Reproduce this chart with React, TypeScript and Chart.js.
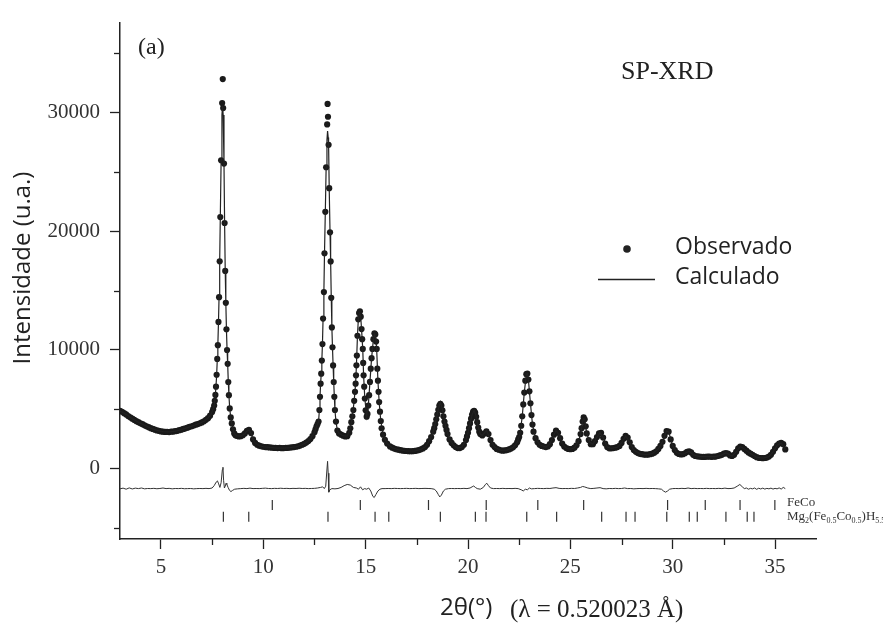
import React, { useEffect, useRef } from 'react';
import { Chart, registerables } from 'chart.js';

Chart.register(...registerables);

const W = 883;
const H = 623;

// Axis ticks
const xMajorTicks = [5, 10, 15, 20, 25, 30, 35];
const xMinorTicks = [7.5, 12.5, 17.5, 22.5, 27.5, 32.5];
const yMajorTicks = [0, 10000, 20000, 30000];
const yMinorTicks = [-5000, 5000, 15000, 25000, 35000];

// Observed intensities [2θ, I]
const observed: [number, number][] = [
  [3.0, 4850], [3.1, 4780], [3.2, 4660], [3.3, 4560], [3.4, 4420], [3.5, 4310], [3.6, 4200], [3.7, 4090], [3.8, 3990], [3.9, 3900],
  [4.0, 3810], [4.1, 3730], [4.2, 3640], [4.3, 3560], [4.4, 3480], [4.5, 3400], [4.6, 3330], [4.7, 3270], [4.8, 3210], [4.9, 3170],
  [5.0, 3120], [5.1, 3100], [5.2, 3080], [5.3, 3090], [5.4, 3070], [5.5, 3100], [5.6, 3110], [5.7, 3140], [5.8, 3170], [5.9, 3230],
  [6.0, 3270], [6.1, 3330], [6.2, 3380], [6.3, 3440], [6.4, 3510], [6.5, 3560], [6.6, 3620], [6.7, 3690], [6.8, 3740], [6.9, 3810],
  [7.0, 3880], [7.1, 3980], [7.2, 4100], [7.3, 4240], [7.4, 4450], [7.5, 4750],
  [7.55, 5000], [7.6, 5300], [7.63, 5700], [7.66, 6200], [7.69, 6900], [7.72, 7900], [7.75, 9240], [7.78, 10400], [7.81, 12360],
  [7.84, 14440], [7.87, 17470], [7.9, 21200], [7.94, 25990], [7.99, 30810], [8.02, 32840], [8.04, 30390], [8.08, 25710],
  [8.11, 20700], [8.14, 16660], [8.17, 13970], [8.2, 11740], [8.23, 9990], [8.26, 8820], [8.29, 7290], [8.32, 6180],
  [8.36, 5060], [8.41, 4300], [8.46, 3800], [8.52, 3300], [8.58, 2950], [8.64, 2800],
  [8.7, 2750], [8.8, 2700], [8.9, 2720], [9.0, 2800], [9.1, 2950], [9.2, 3180], [9.3, 3260], [9.4, 2980], [9.5, 2450], [9.6, 2150],
  [9.7, 2000], [9.8, 1920], [9.9, 1870], [10.0, 1830], [10.1, 1800], [10.2, 1790], [10.3, 1770], [10.4, 1760], [10.5, 1740], [10.6, 1730],
  [10.7, 1720], [10.8, 1730], [10.9, 1710], [11.0, 1720], [11.1, 1730], [11.2, 1740], [11.3, 1760], [11.4, 1780], [11.5, 1800], [11.6, 1830],
  [11.7, 1870], [11.8, 1930], [11.9, 2000], [12.0, 2080], [12.1, 2180], [12.2, 2310], [12.3, 2480], [12.4, 2720], [12.5, 3050],
  [12.55, 3300], [12.6, 3550], [12.65, 3750], [12.7, 3950], [12.74, 4930], [12.77, 6040], [12.8, 7150], [12.83, 7990],
  [12.86, 9100], [12.89, 10490], [12.92, 12640], [12.96, 14870], [12.99, 18150], [13.03, 21640], [13.07, 25400],
  [13.12, 29010], [13.14, 30740], [13.16, 29660], [13.19, 27290], [13.22, 23640], [13.26, 19910], [13.29, 17460],
  [13.32, 14390], [13.35, 11890], [13.38, 10220], [13.41, 8690], [13.44, 7290], [13.47, 6040], [13.5, 4930],
  [13.55, 3950], [13.62, 3200], [13.7, 2950],
  [13.8, 2850], [13.9, 2760], [14.0, 2700], [14.1, 2720], [14.2, 3000],
  [14.25, 3390], [14.3, 3900], [14.35, 4400], [14.4, 4930], [14.44, 5700], [14.48, 6460], [14.51, 7150], [14.53, 7850],
  [14.55, 8700], [14.57, 9520], [14.6, 11190], [14.64, 12580], [14.68, 13100], [14.72, 13250], [14.76, 12800], [14.8, 11750],
  [14.83, 10900], [14.86, 10080], [14.88, 8900], [14.9, 7850], [14.93, 6900], [14.96, 5900], [15.0, 4900], [15.05, 4370],
  [15.09, 4600], [15.13, 5300], [15.17, 6180], [15.21, 7300], [15.25, 8410], [15.29, 9300], [15.33, 10080], [15.38, 10900],
  [15.43, 11400], [15.47, 11300], [15.51, 10700], [15.54, 10080], [15.57, 8410], [15.6, 7400], [15.63, 6460], [15.66, 5600],
  [15.7, 4790], [15.74, 4000], [15.78, 3390], [15.85, 2850], [15.94, 2420], [16.05, 2100], [16.19, 1860],
  [16.3, 1750], [16.4, 1680], [16.5, 1620], [16.6, 1580], [16.7, 1540], [16.8, 1510], [16.9, 1490], [17.0, 1470], [17.1, 1460], [17.2, 1450],
  [17.3, 1460], [17.4, 1480], [17.5, 1510], [17.6, 1550], [17.7, 1610], [17.8, 1690], [17.9, 1810], [18.0, 2000], [18.1, 2300], [18.2, 2650],
  [18.3, 3100], [18.35, 3400], [18.4, 3750], [18.45, 4150], [18.5, 4550], [18.55, 4950], [18.6, 5300], [18.65, 5450], [18.7, 5300],
  [18.75, 4900], [18.8, 4400], [18.85, 3950], [18.9, 3600], [18.95, 3250], [19.0, 2900], [19.1, 2450], [19.2, 2150], [19.3, 1950],
  [19.4, 1800], [19.5, 1720], [19.6, 1720], [19.7, 1800], [19.8, 2000], [19.9, 2400],
  [19.95, 2700], [20.0, 3000], [20.05, 3400], [20.1, 3800], [20.15, 4200], [20.2, 4550], [20.25, 4800], [20.3, 4850], [20.35, 4700],
  [20.4, 4350], [20.45, 3900], [20.5, 3450], [20.55, 3100], [20.6, 2900], [20.7, 2780], [20.8, 2950], [20.9, 3120], [21.0, 2900],
  [21.1, 2400], [21.2, 2000], [21.3, 1800], [21.4, 1650], [21.5, 1580], [21.6, 1530], [21.7, 1500], [21.8, 1520], [21.9, 1550],
  [22.0, 1600], [22.1, 1680], [22.2, 1780], [22.3, 1950], [22.4, 2200], [22.45, 2450],
  [22.5, 2650], [22.55, 3000], [22.6, 3600], [22.65, 4400], [22.7, 5400], [22.75, 6400], [22.8, 7400], [22.85, 7950], [22.9, 8000],
  [22.95, 7500], [23.0, 6500], [23.05, 5500], [23.1, 4500], [23.15, 3700], [23.2, 3100],
  [23.3, 2550], [23.4, 2200], [23.5, 2000], [23.6, 1900], [23.7, 1850], [23.8, 1800], [23.9, 1850], [24.0, 2050], [24.1, 2400], [24.2, 2850],
  [24.3, 3200], [24.4, 3000], [24.5, 2550], [24.6, 2100], [24.7, 1850], [24.8, 1720], [24.9, 1650], [25.0, 1620], [25.1, 1650], [25.2, 1750],
  [25.3, 1950], [25.4, 2300], [25.5, 2900], [25.55, 3400], [25.6, 3950], [25.65, 4300], [25.7, 4150], [25.75, 3550],
  [25.8, 2950], [25.9, 2400], [26.0, 2050], [26.1, 2050], [26.2, 2300], [26.3, 2650], [26.4, 2950], [26.5, 3000], [26.6, 2600], [26.7, 2100],
  [26.8, 1800], [26.9, 1700], [27.0, 1700], [27.1, 1720], [27.2, 1750], [27.3, 1800], [27.4, 1900], [27.5, 2150], [27.6, 2500], [27.7, 2750],
  [27.8, 2600], [27.9, 2200], [28.0, 1800], [28.1, 1550], [28.2, 1400], [28.3, 1300], [28.4, 1230], [28.5, 1200], [28.6, 1170], [28.7, 1160],
  [28.8, 1170], [28.9, 1200], [29.0, 1250], [29.1, 1330], [29.2, 1450], [29.3, 1650], [29.4, 1900], [29.5, 2250], [29.6, 2750], [29.7, 3150],
  [29.8, 3100], [29.9, 2450], [30.0, 1900], [30.1, 1550], [30.2, 1320], [30.3, 1220], [30.4, 1180], [30.5, 1200], [30.6, 1280], [30.7, 1400],
  [30.8, 1450], [30.9, 1350], [31.0, 1150], [31.1, 1050], [31.2, 1020], [31.3, 1000], [31.4, 980], [31.5, 970], [31.6, 980], [31.7, 1000],
  [31.8, 990], [31.9, 980], [32.0, 990], [32.1, 1000], [32.2, 1050], [32.3, 1100], [32.4, 1150], [32.5, 1250], [32.6, 1300], [32.7, 1250],
  [32.8, 1100], [32.9, 1050], [33.0, 1150], [33.1, 1400], [33.2, 1700], [33.3, 1850], [33.4, 1800], [33.5, 1650], [33.6, 1500], [33.7, 1350],
  [33.8, 1250], [33.9, 1150], [34.0, 1050], [34.1, 950], [34.2, 900], [34.3, 880], [34.4, 870], [34.5, 880], [34.6, 920], [34.7, 1000],
  [34.8, 1150], [34.9, 1400], [35.0, 1700], [35.1, 1950], [35.2, 2100], [35.3, 2150], [35.4, 2050], [35.5, 1600],
];

// Calculated (Rietveld) profile [2θ, I]
const calculated: [number, number][] = [
  [3.0, 4850], [3.3, 4560], [3.6, 4200], [3.9, 3900], [4.2, 3640], [4.5, 3400], [4.8, 3210], [5.1, 3100], [5.4, 3080], [5.7, 3140],
  [6.0, 3270], [6.3, 3440], [6.6, 3620], [6.9, 3810], [7.1, 3980], [7.3, 4240], [7.45, 4580], [7.55, 5000], [7.6, 5300], [7.66, 6200],
  [7.72, 7800], [7.75, 9100], [7.78, 10400], [7.81, 12300], [7.84, 14500], [7.87, 17500], [7.9, 21200], [7.94, 26000], [7.98, 29800],
  [8.01, 30600], [8.04, 29800], [8.08, 25700], [8.11, 20700], [8.14, 16700], [8.17, 14000], [8.2, 11700], [8.23, 10000], [8.26, 8800],
  [8.29, 7300], [8.32, 6200], [8.36, 5060], [8.41, 4300], [8.46, 3800], [8.52, 3300], [8.58, 2950], [8.7, 2750], [8.9, 2720], [9.1, 2950],
  [9.2, 3150], [9.3, 3220], [9.4, 2980], [9.5, 2450], [9.6, 2150], [9.8, 1920], [10.0, 1830], [10.3, 1770], [10.7, 1720], [11.0, 1720],
  [11.3, 1760], [11.6, 1830], [11.9, 2000], [12.1, 2180], [12.3, 2480], [12.5, 3050], [12.6, 3550], [12.7, 3950], [12.74, 4930],
  [12.77, 6040], [12.8, 7150], [12.83, 7990], [12.86, 9100], [12.89, 10490], [12.92, 12640], [12.96, 14870], [12.99, 18150],
  [13.03, 21640], [13.07, 25400], [13.11, 27700], [13.14, 28450], [13.17, 27900], [13.19, 27290], [13.22, 23640], [13.26, 19910],
  [13.29, 17460], [13.32, 14390], [13.35, 11890], [13.38, 10220], [13.41, 8690], [13.44, 7290], [13.47, 6040], [13.5, 4930],
  [13.55, 3950], [13.62, 3200], [13.7, 2950], [13.9, 2760], [14.1, 2720], [14.25, 3390], [14.35, 4400], [14.44, 5700], [14.51, 7150],
  [14.55, 8700], [14.6, 11190], [14.64, 12500], [14.68, 13000], [14.72, 13150], [14.76, 12750], [14.8, 11750], [14.86, 10000],
  [14.9, 7850], [14.96, 5900], [15.05, 4400], [15.13, 5300], [15.21, 7300], [15.29, 9300], [15.38, 10900], [15.44, 11300],
  [15.5, 10900], [15.54, 10000], [15.6, 7400], [15.66, 5600], [15.74, 4000], [15.85, 2850], [16.05, 2100], [16.3, 1750],
  [16.6, 1580], [17.0, 1470], [17.4, 1480], [17.7, 1610], [17.9, 1810], [18.1, 2300], [18.3, 3100], [18.45, 4200], [18.55, 5000],
  [18.65, 5600], [18.75, 5000], [18.85, 4000], [18.95, 3250], [19.1, 2450], [19.3, 1950], [19.5, 1720], [19.7, 1800], [19.9, 2400],
  [20.05, 3400], [20.2, 4550], [20.3, 4900], [20.4, 4350], [20.5, 3450], [20.6, 2900], [20.7, 2780], [20.9, 3200], [21.1, 2400],
  [21.3, 1800], [21.6, 1530], [21.9, 1550], [22.2, 1780], [22.4, 2200], [22.55, 3000], [22.65, 4400], [22.75, 6400], [22.85, 7950],
  [22.9, 8000], [22.95, 7500], [23.05, 5500], [23.15, 3700], [23.3, 2550], [23.5, 2000], [23.8, 1800], [24.0, 2050], [24.2, 2850],
  [24.3, 3200], [24.45, 2800], [24.6, 2100], [24.8, 1720], [25.0, 1620], [25.2, 1750], [25.4, 2300], [25.5, 2900], [25.6, 3950],
  [25.65, 4200], [25.7, 4150], [25.8, 2950], [25.95, 2200], [26.1, 2050], [26.3, 2650], [26.45, 3000], [26.6, 2600], [26.8, 1800],
  [27.0, 1700], [27.3, 1800], [27.5, 2150], [27.7, 2750], [27.9, 2200], [28.1, 1550], [28.4, 1230], [28.7, 1160], [29.0, 1250],
  [29.3, 1650], [29.5, 2250], [29.7, 3150], [29.8, 3100], [30.0, 1900], [30.2, 1320], [30.5, 1200], [30.8, 1450], [31.0, 1150],
  [31.3, 1000], [31.7, 1000], [32.1, 1000], [32.4, 1150], [32.6, 1300], [32.9, 1050], [33.1, 1400], [33.3, 1850], [33.5, 1650],
  [33.8, 1250], [34.1, 950], [34.4, 870], [34.7, 1000], [34.9, 1400], [35.1, 1950], [35.3, 2150], [35.5, 1600],
];

// Difference curve (obs - calc, offset) [2θ, I]
const difference: [number, number][] = [
  [3.0, -1720], [3.15, -1660], [3.3, -1750], [3.45, -1640], [3.6, -1730], [3.75, -1660], [3.9, -1700], [4.05, -1650], [4.2, -1720],
  [4.35, -1690], [4.5, -1700], [4.65, -1680], [4.8, -1710], [4.95, -1690], [5.1, -1650], [5.25, -1700], [5.4, -1680], [5.55, -1720],
  [5.7, -1690], [5.85, -1700], [6.0, -1680], [6.15, -1710], [6.3, -1700], [6.45, -1690], [6.6, -1720], [6.75, -1700], [6.9, -1690],
  [7.05, -1700], [7.2, -1680], [7.35, -1700], [7.5, -1650], [7.6, -1450], [7.7, -1150], [7.76, -1050], [7.82, -1300], [7.88, -1600],
  [7.94, -1200], [8.0, -100], [8.03, 100], [8.06, -1000], [8.1, -1650], [8.14, -1500], [8.18, -1250], [8.22, -1350], [8.28, -1600],
  [8.35, -1850], [8.42, -1950], [8.5, -1850], [8.6, -1750], [8.75, -1720], [8.9, -1700], [9.05, -1680], [9.2, -1700], [9.35, -1660],
  [9.5, -1700], [9.65, -1690], [9.8, -1700], [9.95, -1680], [10.1, -1660], [10.25, -1690], [10.4, -1700], [10.55, -1680], [10.7, -1690],
  [10.85, -1670], [11.0, -1690], [11.15, -1680], [11.3, -1700], [11.45, -1680], [11.6, -1690], [11.75, -1670], [11.9, -1690],
  [12.05, -1680], [12.2, -1700], [12.35, -1690], [12.5, -1680], [12.65, -1650], [12.8, -1600], [12.9, -1550], [12.98, -1700],
  [13.05, -1500], [13.1, -300], [13.14, 600], [13.17, -400], [13.2, -2000], [13.25, -1800], [13.35, -1700], [13.5, -1720],
  [13.65, -1690], [13.8, -1600], [13.95, -1450], [14.1, -1350], [14.25, -1400], [14.4, -1600], [14.55, -1650], [14.65, -1750],
  [14.75, -1550], [14.85, -1800], [14.95, -1700], [15.05, -1750], [15.15, -1650], [15.25, -1900], [15.35, -2350], [15.42, -2450],
  [15.5, -2200], [15.6, -1900], [15.7, -1750], [15.8, -1700], [15.95, -1700], [16.1, -1690], [16.25, -1700], [16.4, -1680],
  [16.55, -1690], [16.7, -1700], [16.85, -1690], [17.0, -1680], [17.15, -1700], [17.3, -1690], [17.45, -1680], [17.6, -1700],
  [17.75, -1690], [17.9, -1680], [18.05, -1690], [18.2, -1700], [18.35, -1750], [18.45, -1900], [18.55, -2200], [18.62, -2400],
  [18.7, -2250], [18.8, -1900], [18.9, -1750], [19.05, -1700], [19.2, -1690], [19.35, -1700], [19.5, -1690], [19.65, -1700],
  [19.8, -1680], [19.95, -1700], [20.1, -1650], [20.2, -1550], [20.28, -1480], [20.36, -1600], [20.45, -1700], [20.6, -1750],
  [20.75, -1600], [20.85, -1350], [20.92, -1250], [21.0, -1450], [21.1, -1650], [21.25, -1700], [21.4, -1690], [21.55, -1700],
  [21.7, -1680], [21.85, -1700], [22.0, -1690], [22.15, -1700], [22.3, -1680], [22.45, -1700], [22.6, -1800], [22.7, -1900],
  [22.8, -1750], [22.9, -1800], [23.0, -1650], [23.1, -1720], [23.25, -1700], [23.4, -1680], [23.55, -1690], [23.7, -1700],
  [23.85, -1680], [24.0, -1690], [24.15, -1650], [24.3, -1620], [24.45, -1680], [24.6, -1700], [24.75, -1690], [24.9, -1700],
  [25.05, -1680], [25.2, -1690], [25.35, -1650], [25.5, -1600], [25.6, -1520], [25.7, -1560], [25.85, -1650], [26.0, -1700],
  [26.15, -1680], [26.3, -1650], [26.45, -1620], [26.6, -1700], [26.75, -1720], [26.9, -1690], [27.05, -1700], [27.2, -1680],
  [27.35, -1700], [27.5, -1690], [27.65, -1650], [27.8, -1700], [27.95, -1690], [28.1, -1720], [28.25, -1700], [28.4, -1690],
  [28.55, -1700], [28.7, -1680], [28.85, -1700], [29.0, -1690], [29.15, -1700], [29.3, -1720], [29.45, -1750], [29.55, -1900],
  [29.65, -2000], [29.75, -1900], [29.85, -1750], [30.0, -1700], [30.15, -1690], [30.3, -1700], [30.45, -1680], [30.6, -1700],
  [30.75, -1650], [30.9, -1700], [31.05, -1680], [31.2, -1700], [31.35, -1690], [31.5, -1700], [31.65, -1680], [31.8, -1700],
  [31.95, -1690], [32.1, -1700], [32.25, -1680], [32.4, -1700], [32.55, -1660], [32.7, -1700], [32.85, -1690], [33.0, -1650],
  [33.15, -1500], [33.28, -1350], [33.4, -1550], [33.5, -1700], [33.6, -1650], [33.7, -1750], [33.8, -1680], [33.9, -1720],
  [34.0, -1650], [34.1, -1760], [34.2, -1670], [34.3, -1730], [34.4, -1660], [34.5, -1740], [34.6, -1680], [34.7, -1720],
  [34.8, -1660], [34.9, -1740], [35.0, -1680], [35.1, -1720], [35.2, -1640], [35.3, -1740], [35.4, -1600], [35.5, -1700],
];

// Bragg reflection positions (2θ)
const feCoReflections = [10.44, 14.74, 18.07, 20.89, 23.41, 25.65, 29.75, 31.59, 33.29, 34.99];
const mgReflections = [8.05, 9.29, 13.16, 15.46, 16.13, 18.65, 20.36, 20.88, 22.87, 24.33, 26.53, 27.72, 28.16, 29.71, 30.81, 31.2, 32.6, 33.64, 33.97];
const feCoRowLevel = -3090;
const mgRowLevel = -4070;

const SERIF = '"Liberation Serif", "Times New Roman", serif';
const SANS = '"Open Sans", "Liberation Sans", sans-serif';

const decorPlugin = {
  id: 'decor',
  afterDraw(chart: any) {
    const ctx: CanvasRenderingContext2D = chart.ctx;
    const xs = chart.scales.x;
    const ys = chart.scales.y;
    const { left, bottom } = chart.chartArea;
    ctx.save();
    // minor ticks
    ctx.strokeStyle = '#222';
    ctx.lineWidth = 1.3;
    xMinorTicks.forEach((v) => {
      const px = Math.round(xs.getPixelForValue(v)) + 0.5;
      ctx.beginPath();
      ctx.moveTo(px, bottom);
      ctx.lineTo(px, bottom + 6);
      ctx.stroke();
    });
    yMinorTicks.forEach((v) => {
      const py = Math.round(ys.getPixelForValue(v)) + 0.5;
      ctx.beginPath();
      ctx.moveTo(left - 6, py);
      ctx.lineTo(left, py);
      ctx.stroke();
    });

    ctx.fillStyle = '#222';
    ctx.textBaseline = 'middle';
    ctx.textAlign = 'left';
    ctx.font = `24px ${SERIF}`;
    ctx.fillText('(a)', 138, 48);
    ctx.font = `26px ${SERIF}`;
    ctx.fillText('SP-XRD', 621, 72);

    // legend
    ctx.beginPath();
    ctx.arc(627, 249, 3.8, 0, Math.PI * 2);
    ctx.fill();
    ctx.beginPath();
    ctx.moveTo(598, 279.5);
    ctx.lineTo(655, 279.5);
    ctx.lineWidth = 1.3;
    ctx.stroke();
    ctx.font = `23px ${SANS}`;
    ctx.fillText('Observado', 675, 247);
    ctx.fillText('Calculado', 675, 277);

    // axis titles
    ctx.save();
    ctx.translate(23, 268);
    ctx.rotate(-Math.PI / 2);
    ctx.textAlign = 'center';
    ctx.font = `24px ${SANS}`;
    ctx.fillText('Intensidade (u.a.)', 0, 0);
    ctx.restore();
    ctx.font = `24px ${SANS}`;
    ctx.fillText('2θ(°)', 440, 608);
    ctx.font = `25px ${SERIF}`;
    ctx.fillText('(λ = 0.520023 Å)', 510, 610);

    // phase labels
    ctx.fillStyle = '#333';
    ctx.font = `13px ${SERIF}`;
    ctx.fillText('FeCo', 787, 503);
    ctx.textBaseline = 'alphabetic';
    const parts: [string, boolean][] = [
      ['Mg', false], ['2', true], ['(Fe', false], ['0.5', true], ['Co', false], ['0.5', true], [')H', false], ['5.5', true],
    ];
    let x = 787;
    const base = 520;
    parts.forEach(([t, sub]) => {
      ctx.font = sub ? `8px ${SERIF}` : `13px ${SERIF}`;
      ctx.fillText(t, x, sub ? base + 3 : base);
      x += ctx.measureText(t).width;
    });
    ctx.restore();
  },
};

export default function App() {
  const ref = useRef<HTMLCanvasElement>(null);
  useEffect(() => {
    if (!ref.current) return;
    const tickFont = { family: SERIF, size: 21 };
    const chart = new Chart(ref.current, {
      type: 'scatter',
      data: {
        datasets: [
          {
            type: 'line',
            label: 'Calculado',
            data: calculated.map(([x, y]) => ({ x, y })),
            borderColor: '#222',
            borderWidth: 1.2,
            pointRadius: 0,
            fill: false,
            tension: 0,
            order: 1,
          } as any,
          {
            type: 'scatter',
            label: 'Observado',
            data: observed.map(([x, y]) => ({ x, y })),
            pointRadius: 3.1,
            pointBackgroundColor: '#1a1a1a',
            pointBorderWidth: 0,
            showLine: false,
            order: 2,
          } as any,
          {
            type: 'line',
            label: 'Diferença',
            data: difference.map(([x, y]) => ({ x, y })),
            borderColor: '#333',
            borderWidth: 1,
            pointRadius: 0,
            fill: false,
            tension: 0,
            order: 3,
          } as any,
          {
            type: 'scatter',
            label: 'FeCo',
            data: feCoReflections.map((x) => ({ x, y: feCoRowLevel })),
            pointStyle: 'line',
            rotation: 90,
            pointRadius: 5,
            pointBorderColor: '#333',
            pointBorderWidth: 1.2,
            order: 4,
          } as any,
          {
            type: 'scatter',
            label: 'Mg2(Fe0.5Co0.5)H5.5',
            data: mgReflections.map((x) => ({ x, y: mgRowLevel })),
            pointStyle: 'line',
            rotation: 90,
            pointRadius: 5,
            pointBorderColor: '#333',
            pointBorderWidth: 1.2,
            order: 5,
          } as any,
        ],
      },
      options: {
        responsive: false,
        animation: false,
        devicePixelRatio: 1,
        layout: { padding: { top: 17, right: 67, left: 0, bottom: 0 } },
        plugins: { legend: { display: false }, tooltip: { enabled: false } },
        scales: {
          x: {
            type: 'linear',
            position: 'bottom',
            min: 3,
            max: 37,
            afterBuildTicks: (s: any) => {
              s.ticks = xMajorTicks.map((v) => ({ value: v }));
            },
            afterFit: (s: any) => {
              s.height = 84;
            },
            border: { display: true, color: '#222', width: 1.5 },
            grid: { display: true, drawOnChartArea: false, drawTicks: true, tickLength: 10, tickColor: '#222', tickWidth: 1.3 },
            ticks: { font: tickFont, color: '#333', padding: 6, autoSkip: false, maxRotation: 0, callback: (v: any) => String(v) },
          },
          y: {
            type: 'linear',
            position: 'left',
            min: -5950,
            max: 37600,
            afterBuildTicks: (s: any) => {
              s.ticks = yMajorTicks.map((v) => ({ value: v }));
            },
            afterFit: (s: any) => {
              s.width = 120;
            },
            border: { display: true, color: '#222', width: 1.5 },
            grid: { display: true, drawOnChartArea: false, drawTicks: true, tickLength: 10, tickColor: '#222', tickWidth: 1.3 },
            ticks: { font: tickFont, color: '#333', padding: 10, autoSkip: false, callback: (v: any) => String(v) },
          },
        },
      } as any,
      plugins: [decorPlugin],
    });
    return () => chart.destroy();
  }, []);
  return (
    <div style={{ position: 'fixed', left: 0, top: 0, width: W, height: H, background: '#fff' }}>
      <canvas ref={ref} width={W} height={H} style={{ width: W, height: H, display: 'block' }} />
    </div>
  );
}
